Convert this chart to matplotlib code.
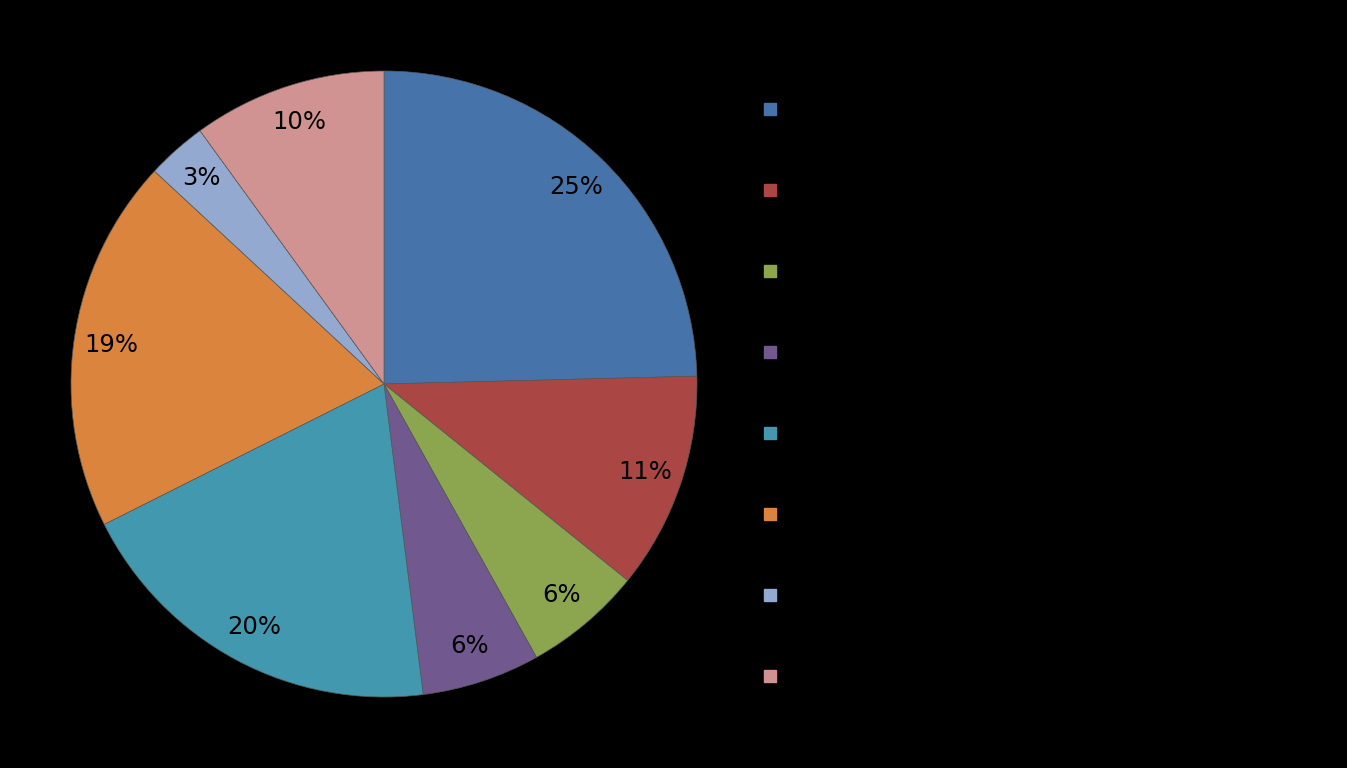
import matplotlib.pyplot as plt
from matplotlib.lines import Line2D

# slice shares (%), clockwise from 12 o'clock
shares = [24.6, 11.2, 6.1, 6.1, 19.6, 19.3, 3.1, 10.0]
colors = ['#4674AA', '#AA4644', '#8BA64E', '#71588F',
          '#4198AF', '#DB843D', '#93A9CF', '#D19392']
# legend text is black on black in the original, so nothing readable
labels = [' '] * len(shares)

fig = plt.figure(figsize=(13.47, 7.68), dpi=100, facecolor='black')
ax = fig.add_axes([71 / 1347, 71 / 768, 626 / 1347, 626 / 768])
ax.set_facecolor('black')

wedges, _, autotexts = ax.pie(
    shares, colors=colors, startangle=90, counterclock=False,
    autopct='%.0f%%', pctdistance=0.88,
    wedgeprops=dict(edgecolor='#5a5a5a', linewidth=0.5),
    textprops=dict(fontsize=17.5, color='black', family='DejaVu Sans'))
ax.set_xlim(-1, 1)
ax.set_ylim(-1, 1)
ax.set_aspect('equal')
ax.axis('off')

handles = [Line2D([], [], marker='s', linestyle='none', markersize=8.6,
                  markerfacecolor=c, markeredgecolor=c) for c in colors]
leg = fig.legend(handles, labels, loc='upper left',
                 bbox_to_anchor=(762 / 1347, 1 - 101 / 768),
                 frameon=False, fontsize=12, handlelength=1,
                 borderpad=0, borderaxespad=0, labelspacing=3.78)
for t in leg.get_texts():
    t.set_color('black')

fig.savefig('out.png', dpi=100, facecolor='black')
